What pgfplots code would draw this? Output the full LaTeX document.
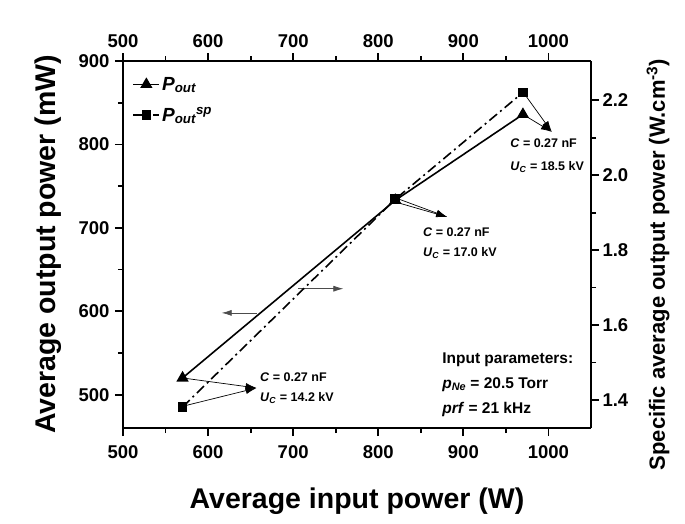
\documentclass[border=0pt]{standalone}
\usepackage{fontspec}
\setmainfont{Liberation Sans}
\usepackage{pgfplots}
\pgfplotsset{compat=1.18}
\usetikzlibrary{arrows.meta}
\begin{document}
\begin{tikzpicture}
\pgfplotsset{
  common/.style={
    scale only axis, width=468pt, height=367pt,
    xmin=500, xmax=1050,
    xtick={500,600,...,1000}, minor x tick num=1,
    tick align=outside, major tick length=8pt, minor tick length=5pt,
    axis line style={line width=2.2pt},
    every tick/.style={line width=1.8pt, black},
    /pgf/number format/assume math mode=true,
    /pgf/number format/1000 sep={},
    ticklabel style={font=\fontsize{18.5}{18.5}\selectfont\bfseries},
  }
}
\begin{axis}[common,
  ymin=460, ymax=900,
  ytick={500,600,...,900}, minor y tick num=1,
  axis x line*=bottom, axis y line*=left,
  xticklabel style={yshift=-6pt},
  yticklabel style={xshift=-2pt},
  xlabel={Average input power (W)},
  ylabel={Average output power (mW)},
  every axis x label/.style={at={(axis description cs:0.5,0)}, yshift=-73pt, anchor=center, font=\fontsize{28.5}{30}\selectfont\bfseries},
  every axis y label/.style={at={(axis description cs:0,0.5)}, xshift=-75pt, rotate=90, anchor=center, font=\fontsize{28.5}{30}\selectfont\bfseries},
  legend style={at={(axis description cs:0.02,0.962)}, anchor=north west, draw=none, fill=none,
    font=\fontsize{19}{22}\selectfont\bfseries\itshape, row sep=12pt, inner sep=0pt},
  legend cell align=left,
  legend image code/.code={\draw[mark repeat=2,mark phase=2,#1] plot coordinates {(0pt,0pt)(13pt,0pt)(26pt,0pt)};},
]
\addplot[black, line width=1.6pt, mark=triangle*, mark size=5.5pt, mark options={solid}]
  coordinates {(570,520) (820,733) (970,836)};
\addlegendentry{P\textsubscript{out}}
\addlegendimage{black, line width=1.6pt, dash pattern=on 10pt off 4pt on 2pt off 4pt, mark=square*, mark size=4pt, mark options={solid}}
\addlegendentry{P\textsubscript{out}\textsuperscript{sp}}
% annotation arrows
\draw[line width=0.7pt, -{Latex[length=11pt,width=7pt]}] (axis cs:570,520) -- (axis cs:657,508);
\draw[line width=0.7pt, -{Latex[length=11pt,width=7pt]}] (axis cs:570,486) -- (axis cs:657,508);
\draw[line width=0.7pt, -{Latex[length=11pt,width=7pt]}] (axis cs:820,736) -- (axis cs:881,713);
\draw[line width=0.7pt, -{Latex[length=11pt,width=7pt]}] (axis cs:820,731) -- (axis cs:881,713);
\draw[line width=0.7pt, -{Latex[length=11pt,width=7pt]}] (axis cs:970,863) -- (axis cs:1004,815);
\draw[line width=0.7pt, -{Latex[length=11pt,width=7pt]}] (axis cs:970,836) -- (axis cs:1004,815);
\draw[line width=0.7pt, draw=black!70, -{Latex[length=10pt,width=6pt]}] (axis cs:657,598) -- (axis cs:616,598);
\draw[line width=0.7pt, draw=black!70, -{Latex[length=10pt,width=6pt]}] (axis cs:706,627) -- (axis cs:759,627);
% annotation texts
\begin{scope}[every node/.style={anchor=west, inner sep=0pt, font=\fontsize{12.5}{14}\selectfont\bfseries}]
\node at (axis cs:661,521.5) {\textit{C} = 0.27 nF};
\node at (axis cs:661,496) {\textit{U}\textsubscript{\textit{C}} = 14.2 kV};
\node at (axis cs:852.5,695) {\textit{C} = 0.27 nF};
\node at (axis cs:852.5,670) {\textit{U}\textsubscript{\textit{C}} = 17.0 kV};
\node at (axis cs:955,802) {\textit{C} = 0.27 nF};
\node at (axis cs:955,773) {\textit{U}\textsubscript{\textit{C}} = 18.5 kV};
\end{scope}
\begin{scope}[every node/.style={anchor=west, inner sep=0pt, font=\fontsize{15.5}{17}\selectfont\bfseries}]
\node at (axis cs:875,542) {Input parameters:};
\node at (axis cs:875,512) {\textit{p}\textsubscript{\textit{Ne}} = 20.5 Torr};
\node at (axis cs:875,482) {\textit{prf} = 21 kHz};
\end{scope}
\end{axis}
\begin{axis}[common,
  ymin=1.325, ymax=2.305,
  ytick={1.4,1.6,...,2.21}, minor y tick num=1,
  axis x line*=top, axis y line*=right,
  xticklabel style={yshift=2pt},
  yticklabel style={xshift=0pt, /pgf/number format/.cd, fixed, fixed zerofill, precision=1},
  ylabel={Specific average output power (W.cm\textsuperscript{-3})},
  every axis y label/.style={at={(axis description cs:1,0.5)}, xshift=67pt, yshift=-20pt, rotate=90, anchor=center, font=\fontsize{22}{23}\selectfont\bfseries},
]
\addplot[black, line width=1.6pt, dash pattern=on 10pt off 4pt on 2pt off 4pt, mark=square*, mark size=4pt, mark options={solid}]
  coordinates {(570,1.381) (820,1.936) (970,2.221)};
\end{axis}
\pgfresetboundingbox
\path[use as bounding box] (-123pt,-96pt) rectangle (562pt,428pt);
\end{tikzpicture}
\end{document}
